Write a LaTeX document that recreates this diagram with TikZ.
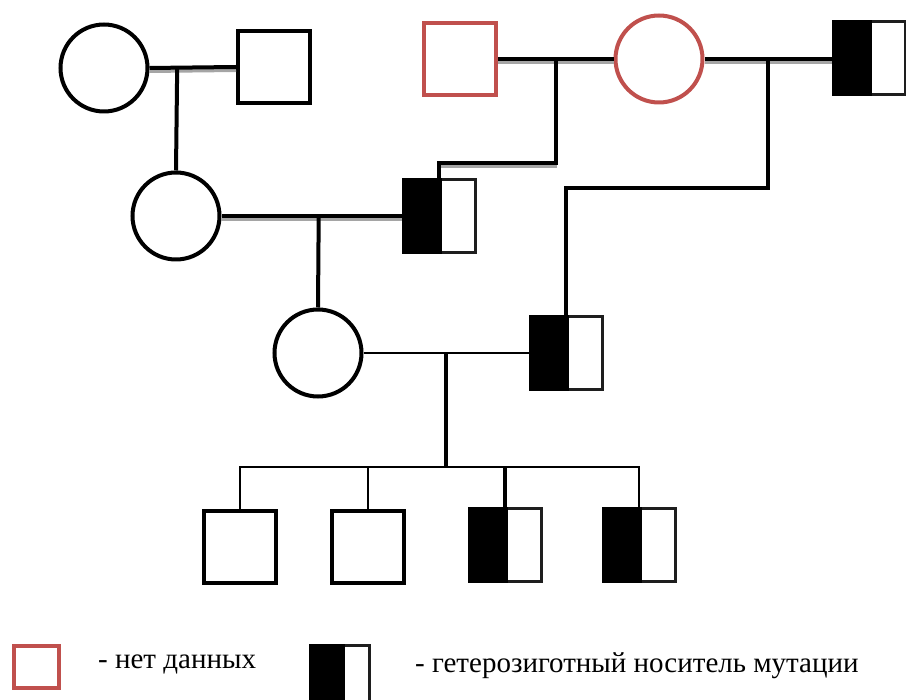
\documentclass[tikz,border=0pt]{standalone}
\usepackage{fontspec}
\setmainfont{Liberation Serif}
\usetikzlibrary{calc}
\definecolor{nodata}{RGB}{192,80,77}
\definecolor{shadowgray}{RGB}{165,165,165}
\definecolor{outl}{RGB}{30,30,30}
\begin{document}
\begin{tikzpicture}[x=1pt,y=-1pt,
  person/.style={draw=black,line width=4pt,fill=white,inner sep=0pt},
  male/.style={person,rectangle,minimum size=72pt},
  female/.style={person,circle,minimum size=87pt},
  unknown/.style={male,draw=nodata},
  carrier/.style={rectangle,draw=outl,line width=3pt,fill=white,minimum width=72pt,minimum height=73pt,inner sep=0pt},
  couple/.style={line width=4pt,draw=black},
  shadowline/.style={line width=4pt,draw=shadowgray},
  thinline/.style={line width=2pt,draw=black},
  legend/.style={font=\fontsize{29}{32}\selectfont,anchor=west,inner sep=0pt}]
\useasboundingbox (0,0) rectangle (906,700);

% generation 1
\node[female] (c1) at (104,68) {};
\node[male] (s1) at (274,67) {};
\node[unknown] (rs) at (460,59) {};
\node[female,draw=nodata] (rc) at (659,59) {};
\node[carrier] (h1) at (869,58) {};
% generation 2
\node[female] (c2) at (176,216) {};
\node[carrier] (h2) at (439,216) {};
% generation 3
\node[female] (c3) at (318,353) {};
\node[carrier] (h3) at (566,353) {};
% generation 4
\node[male] (k1) at (240,547) {};
\node[male] (k2) at (368,547) {};
\node[carrier] (k3) at (505,545) {};
\node[carrier] (k4) at (639,545) {};

% half fills
\foreach \h in {h1,h2,h3,k3,k4}{
  \fill[black] (\h.south west) rectangle ([xshift=3pt]\h.north);
}

% couple lines with shadows
\draw[shadowline] ([yshift=-3pt]c1.east) -- ([yshift=-3pt]s1.west);
\draw[couple] (c1.east) -- (s1.west);
\draw[shadowline] ([yshift=-3pt]rs.east) -- ([yshift=-3pt]rc.west);
\draw[couple] (rs.east) -- (rc.west);
\draw[shadowline] ([yshift=-3pt]rc.east) -- ([yshift=-3pt]rc.east -| h1.west);
\draw[couple] (rc.east) -- (rc.east -| h1.west);
\draw[shadowline] ([yshift=-3pt]c2.east) -- ([yshift=-3pt]h2.west);
\draw[couple] (c2.east) -- (h2.west);
\draw[thinline] (c3.east) -- (h3.west);

% descent lines
\coordinate (m1) at ($(c1.east)!0.32!(s1.west)$);
\draw[couple] (m1) -- (c2.north);
\coordinate (m2) at ($(rs.east)!0.5!(rc.west)$);
\draw[shadowline] ([xshift=1pt,yshift=-3pt]m2 |- 0,163) -- ([yshift=-3pt]h2.north |- 0,163);
\draw[couple] (m2) -- ++(0,104) -| (h2.north);
\coordinate (m3) at ($(rc.east)!0.5!(rc.east -| h1.west)$);
\draw[couple] (m3) -- ++(0,129) -| (h3.north);
\coordinate (m4) at ($(c2.east)!0.54!(h2.west)$);
\draw[couple] (m4) -- (c3.north);
\coordinate (m5) at ($(c3.east)!0.5!(h3.west)$);
\coordinate (sib) at ($(m5)+(0,114)$);
\draw[couple] (m5) -- (sib);
\draw[thinline] (k1.north) -- (k1.north |- sib) -| (k4.north);
\draw[thinline] (k2.north) -- (k2.north |- sib);
\draw[couple] (k3.north) -- (k3.north |- sib);

% legend
\node[rectangle,draw=nodata,line width=4pt,minimum width=45pt,minimum height=42pt,inner sep=0pt] (lg1) at (36,667) {};
\node[legend] (lt1) at (98,664) {- нет данных};
\node[rectangle,draw=outl,line width=3pt,fill=white,minimum width=59pt,minimum height=58pt,inner sep=0pt] (lg2) at (340,675) {};
\fill[black] (lg2.south west) rectangle ([xshift=5pt]lg2.north);
\node[legend] (lt2) at (415,666) {- гетерозиготный носитель мутации};
\end{tikzpicture}
\end{document}
